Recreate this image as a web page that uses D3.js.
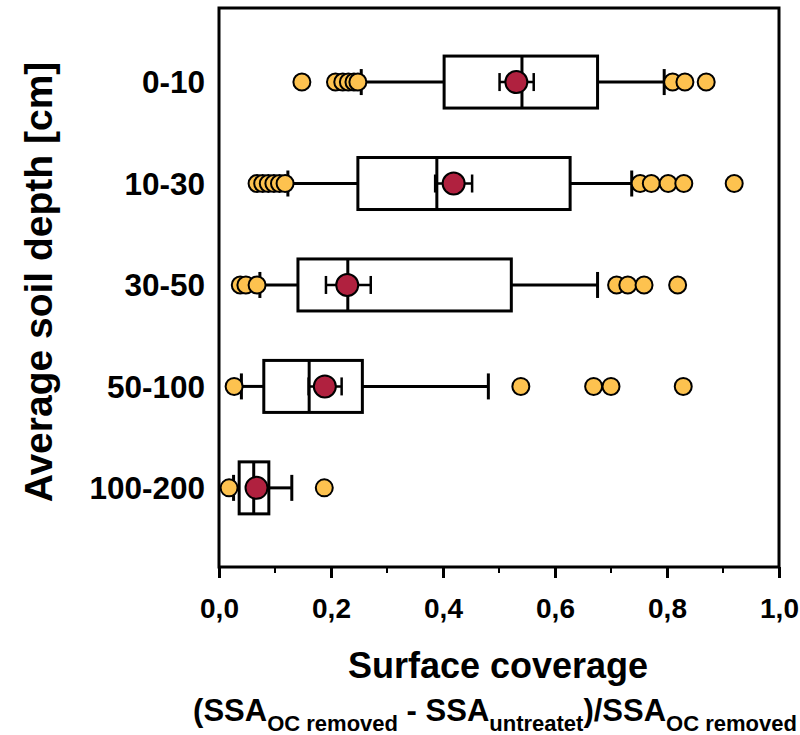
<!DOCTYPE html>
<html>
<head>
<meta charset="utf-8">
<script src="https://cdn.jsdelivr.net/npm/d3@7"></script>
<style>
  body { margin: 0; background: #fff; }
  text { font-family: "Liberation Sans", Arial, sans-serif; font-weight: bold; fill: #000; }
</style>
</head>
<body>
<svg id="chart" width="800" height="735"></svg>
<script>
// Depth classes (top to bottom)
const categories = ["0-10", "10-30", "30-50", "50-100", "100-200"];

// Box plot statistics
const whiskerLow  = [0.254, 0.123, 0.073, 0.040, 0.026];
const q1          = [0.402, 0.248, 0.141, 0.080, 0.036];
const median      = [0.541, 0.389, 0.230, 0.161, 0.062];
const q3          = [0.676, 0.627, 0.522, 0.256, 0.089];
const whiskerHigh = [0.795, 0.737, 0.676, 0.481, 0.130];

// Mean with error bar
const meanValue = [0.531, 0.419, 0.229, 0.189, 0.067];
const meanErrLo = [0.501, 0.386, 0.191, 0.160, 0.057];
const meanErrHi = [0.562, 0.452, 0.271, 0.219, 0.077];

// Outliers per class
const outliers = [
    [0.148, 0.208, 0.221, 0.231, 0.241, 0.248, 0.810, 0.832, 0.870],
    [0.068, 0.078, 0.088, 0.098, 0.108, 0.118, 0.752, 0.772, 0.802, 0.830, 0.920],
    [0.038, 0.048, 0.068, 0.710, 0.730, 0.759, 0.819],
    [0.027, 0.539, 0.669, 0.700, 0.829],
    [0.018, 0.188]
];

const majorTicks = [0, 0.2, 0.4, 0.6, 0.8, 1.0];
const minorTicks = [0.1, 0.3, 0.5, 0.7, 0.9];

const svg = d3.select("#chart");

// Plot area
const plotLeft = 219, plotRight = 779, plotTop = 8, plotBottom = 567;

const x = d3.scaleLinear().domain([0, 1]).range([plotLeft, plotRight]);
const y = d3.scaleLinear().domain([-0.73, 4.78]).range([plotTop, plotBottom]);

const boxHalf = 26;   // half height of box
const capHalf = 13;   // whisker cap
const errHalf = 9;    // error bar cap

// Frame
svg.append("rect")
    .attr("x", plotLeft).attr("y", plotTop)
    .attr("width", plotRight - plotLeft).attr("height", plotBottom - plotTop)
    .attr("fill", "none")
    .attr("stroke", "#000")
    .attr("stroke-width", 3);

// X axis ticks
const xAxis = d3.axisBottom(x)
    .tickValues(majorTicks)
    .tickSize(11)
    .tickFormat(d => d3.format(".1f")(d).replace(".", ","));

const gx = svg.append("g")
    .attr("transform", `translate(0,${plotBottom})`)
    .call(xAxis);
gx.select(".domain").remove();
gx.selectAll(".tick line").attr("stroke", "#000").attr("stroke-width", 3);
gx.selectAll(".tick text")
    .attr("y", 0)
    .attr("dy", 0)
    .attr("transform", "translate(0,51)")
    .style("font-size", "28px")
    .style("font-family", "'Liberation Sans', Arial, sans-serif")
    .style("font-weight", "bold");

gx.selectAll(".minor")
    .data(minorTicks)
    .enter().append("line")
    .attr("x1", d => x(d)).attr("x2", d => x(d))
    .attr("y1", 0).attr("y2", 6)
    .attr("stroke", "#000")
    .attr("stroke-width", 2);

// Category labels
svg.selectAll(".cat")
    .data(categories)
    .enter().append("text")
    .attr("class", "cat")
    .attr("x", 205)
    .attr("y", (d, i) => y(i))
    .attr("dy", "0.36em")
    .attr("text-anchor", "end")
    .style("font-size", "31.5px")
    .text(d => d);

// Boxes
const rows = svg.selectAll(".row")
    .data(categories)
    .enter().append("g")
    .attr("class", "row");

// whiskers
rows.append("line")
    .attr("x1", (d, i) => x(whiskerLow[i])).attr("x2", (d, i) => x(q1[i]))
    .attr("y1", (d, i) => y(i)).attr("y2", (d, i) => y(i))
    .attr("stroke", "#000").attr("stroke-width", 3);
rows.append("line")
    .attr("x1", (d, i) => x(q3[i])).attr("x2", (d, i) => x(whiskerHigh[i]))
    .attr("y1", (d, i) => y(i)).attr("y2", (d, i) => y(i))
    .attr("stroke", "#000").attr("stroke-width", 3);
// caps
rows.append("line")
    .attr("x1", (d, i) => x(whiskerLow[i])).attr("x2", (d, i) => x(whiskerLow[i]))
    .attr("y1", (d, i) => y(i) - capHalf).attr("y2", (d, i) => y(i) + capHalf)
    .attr("stroke", "#000").attr("stroke-width", 3);
rows.append("line")
    .attr("x1", (d, i) => x(whiskerHigh[i])).attr("x2", (d, i) => x(whiskerHigh[i]))
    .attr("y1", (d, i) => y(i) - capHalf).attr("y2", (d, i) => y(i) + capHalf)
    .attr("stroke", "#000").attr("stroke-width", 3);
// box
rows.append("rect")
    .attr("x", (d, i) => x(q1[i]))
    .attr("y", (d, i) => y(i) - boxHalf)
    .attr("width", (d, i) => x(q3[i]) - x(q1[i]))
    .attr("height", boxHalf * 2)
    .attr("fill", "#fff")
    .attr("stroke", "#000").attr("stroke-width", 3);
// median
rows.append("line")
    .attr("x1", (d, i) => x(median[i])).attr("x2", (d, i) => x(median[i]))
    .attr("y1", (d, i) => y(i) - boxHalf).attr("y2", (d, i) => y(i) + boxHalf)
    .attr("stroke", "#000").attr("stroke-width", 3);

// outliers
rows.each(function(d, i) {
    d3.select(this).selectAll(".out")
        .data(outliers[i])
        .enter().append("circle")
        .attr("class", "out")
        .attr("cx", v => x(v))
        .attr("cy", y(i))
        .attr("r", 8.5)
        .attr("fill", "#fdc24f")
        .attr("stroke", "#000")
        .attr("stroke-width", 2);
});

// mean error bars
rows.append("line")
    .attr("x1", (d, i) => x(meanErrLo[i])).attr("x2", (d, i) => x(meanErrHi[i]))
    .attr("y1", (d, i) => y(i)).attr("y2", (d, i) => y(i))
    .attr("stroke", "#000").attr("stroke-width", 2.5);
rows.append("line")
    .attr("x1", (d, i) => x(meanErrLo[i])).attr("x2", (d, i) => x(meanErrLo[i]))
    .attr("y1", (d, i) => y(i) - errHalf).attr("y2", (d, i) => y(i) + errHalf)
    .attr("stroke", "#000").attr("stroke-width", 2.5);
rows.append("line")
    .attr("x1", (d, i) => x(meanErrHi[i])).attr("x2", (d, i) => x(meanErrHi[i]))
    .attr("y1", (d, i) => y(i) - errHalf).attr("y2", (d, i) => y(i) + errHalf)
    .attr("stroke", "#000").attr("stroke-width", 2.5);
rows.append("circle")
    .attr("cx", (d, i) => x(meanValue[i]))
    .attr("cy", (d, i) => y(i))
    .attr("r", 11)
    .attr("fill", "#b0213f")
    .attr("stroke", "#000")
    .attr("stroke-width", 2);

// Y axis title
svg.append("text")
    .attr("transform", "translate(52,282) rotate(-90)")
    .attr("text-anchor", "middle")
    .style("font-size", "39px")
    .text("Average soil depth [cm]");

// X axis title
svg.append("text")
    .attr("x", 498).attr("y", 678)
    .attr("text-anchor", "middle")
    .style("font-size", "36px")
    .text("Surface coverage");

// formula line with subscripts
const formula = svg.append("text")
    .attr("x", 495).attr("y", 721)
    .attr("text-anchor", "middle")
    .style("font-size", "31px");
formula.append("tspan").text("(SSA");
formula.append("tspan").attr("dy", 10).style("font-size", "22px").text("OC removed");
formula.append("tspan").attr("dy", -10).text(" - SSA");
formula.append("tspan").attr("dy", 10).style("font-size", "22px").text("untreatet");
formula.append("tspan").attr("dy", -10).text(")/SSA");
formula.append("tspan").attr("dy", 10).style("font-size", "22px").text("OC removed");
</script>
</body>
</html>
